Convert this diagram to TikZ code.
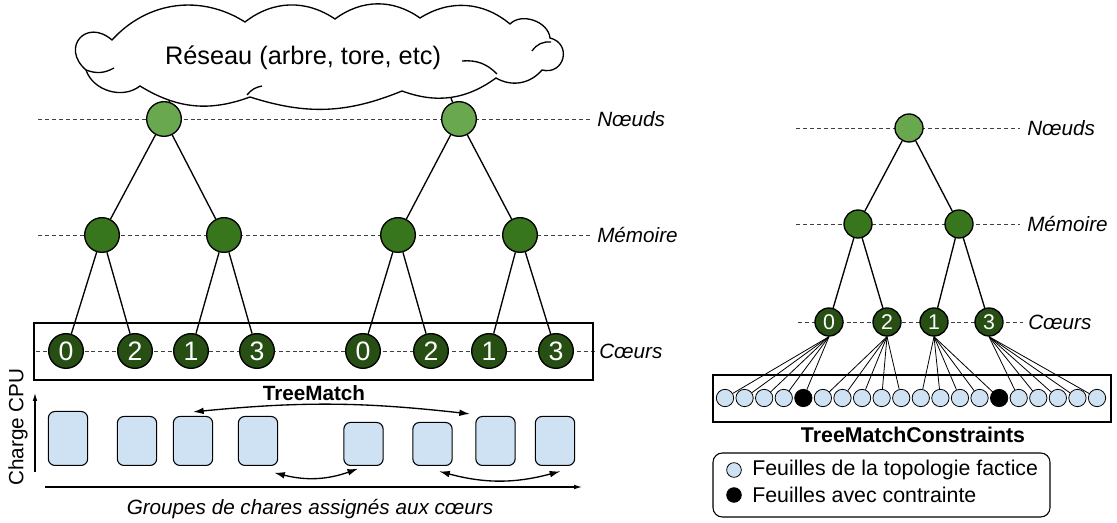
\documentclass[tikz,border=0pt]{standalone}
\usepackage{fontspec}
\setmainfont{Liberation Sans}
\usetikzlibrary{arrows.meta}

\definecolor{noeud}{HTML}{6AA84F}
\definecolor{memoire}{HTML}{38761D}
\definecolor{coeur}{HTML}{274E13}
\definecolor{feuille}{HTML}{CFE2F3}

\tikzset{
  lvl/.style={font=\fontsize{15.5}{18}\selectfont\itshape, anchor=west, inner sep=0pt},
  lvline/.style={dash pattern=on 3pt off 2.2pt, black!75, line width=0.6pt},
  nn/.style={circle, draw, line width=1pt, fill=noeud, minimum size=26pt, inner sep=0pt},
  nm/.style={nn, fill=memoire},
  nc/.style={nn, fill=coeur, text=white, font=\fontsize{20}{22}\selectfont},
  rn/.style={nn, minimum size=21pt},
  rm/.style={rn, fill=memoire},
  rc/.style={rn, fill=coeur, text=white, font=\fontsize{16}{18}\selectfont},
  leaf/.style={circle, draw, line width=0.6pt, fill=feuille, minimum size=13pt, inner sep=0pt},
  arete/.style={line width=1pt},
  nuage/.style={draw, fill=white, line width=1pt},
  frame/.style={draw, line width=1.5pt},
  bar/.style={draw, line width=0.8pt, rounded corners=5pt, fill=feuille, minimum width=29.5pt, anchor=south, inner sep=0pt},
  swap/.style={<->, >={Latex[length=8pt,width=5pt]}, line width=1pt},
  axe/.style={->, >={Latex[length=6pt,width=3.5pt]}, line width=0.8pt},
  titre/.style={font=\fontsize{15.5}{18}\selectfont\bfseries},
}

\begin{document}
\begin{tikzpicture}[x=0.75pt, y=-0.75pt]
  \useasboundingbox (0,0) rectangle (1117,523);

  % niveaux, arbre de gauche
  \node[lvl] (ln1) at (597,119) {Nœuds};
  \node[lvl] (ln2) at (597,235) {Mémoire};
  \node[lvl] (ln3) at (599,351) {Cœurs};
  \coordinate (dl1) at (38,119);
  \coordinate (dl2) at (38,235);
  \coordinate (dl3) at (36,351);
  \draw[lvline] (dl1) -- ([xshift=-5pt]ln1.west);
  \draw[lvline] (dl2) -- ([xshift=-5pt]ln2.west);
  \draw[lvline] (dl3) -- ([xshift=-2pt]ln3.west);

  % reseau
  \coordinate (cl) at (174,85);
  \coordinate (cr) at (446,85);
  \node[nn] (n1) at (164,119) {};
  \node[nn] (n2) at (459,119) {};
  \draw[arete] (n1) -- (cl);
  \draw[arete] (n2) -- (cr);
  \draw[nuage] (112,40) to[bend left=40] (245,22) to[bend left=36] (335,19)
    to[bend left=36] (420,18) to[bend left=36] (510,24) to[bend left=65] (550,38)
    to[bend left=90, looseness=1.8] (542,70) to[bend left=40] (496,78)
    to[bend left=28] (402,91) to[bend left=20] (250,97) to[bend left=26] (140,86)
    to[bend left=55] (86,70) to[bend left=90, looseness=2.2] cycle;
  \draw[line width=1pt] (462,61) to[bend left=25] (497,74);
  \draw[line width=1pt] (532,51) to[bend left=30] (551,42);
  \draw[line width=1pt] (247,95) to[bend left=20] (262,86);
  \draw[line width=1pt] (86,70) to[bend right=25] (114,68);
  \node[font=\fontsize{19}{22}\selectfont] (reseau) at (303,58) {Réseau (arbre, tore, etc)};

  \node[nm] (m1) at (102,235) {};
  \node[nm] (m2) at (224,235) {};
  \node[nm] (m3) at (398,235) {};
  \node[nm] (m4) at (520,235) {};
  \foreach \x/\t [count=\i] in {66/0,135/2,191/1,257/3,363/0,431/2,489/1,556/3}
    \node[nc] (c\i) at (\x,351) {\t};

  \draw[arete] (n1) -- (m1); \draw[arete] (n1) -- (m2);
  \draw[arete] (n2) -- (m3); \draw[arete] (n2) -- (m4);
  \draw[arete] (m1) -- (c1); \draw[arete] (m1) -- (c2);
  \draw[arete] (m2) -- (c3); \draw[arete] (m2) -- (c4);
  \draw[arete] (m3) -- (c5); \draw[arete] (m3) -- (c6);
  \draw[arete] (m4) -- (c7); \draw[arete] (m4) -- (c8);

  \draw[frame] (34,323) rectangle (593,380);
  \node[titre] (tm) at (314,393) {TreeMatch};

  % charges
  \node[bar, minimum height=40.5pt] (b1) at (68,466) {};
  \node[bar, minimum height=36.75pt] (b2) at (137,466) {};
  \node[bar, minimum height=36.75pt] (b3) at (193,466) {};
  \node[bar, minimum height=36.75pt] (b4) at (258,466) {};
  \node[bar, minimum height=32.25pt] (b5) at (363.5,466) {};
  \node[bar, minimum height=32.25pt] (b6) at (432.5,466) {};
  \node[bar, minimum height=36.75pt] (b7) at (495.5,466) {};
  \node[bar, minimum height=36.75pt] (b8) at (555,466) {};

  \draw[swap] ([yshift=3pt]b3.north) to[bend left=6] ([xshift=-4pt,yshift=1.5pt]b7.north west);
  \draw[swap] ([xshift=-3pt,yshift=-5pt]b4.south east) to[bend right=17] ([xshift=-4pt,yshift=-2pt]b5.south);
  \draw[swap] ([xshift=5pt,yshift=-4pt]b6.south) to[bend right=15] ([xshift=4pt,yshift=-4pt]b8.south);

  \coordinate (ay0) at (35,472);
  \coordinate (ay1) at (35,393);
  \coordinate (ax0) at (45,487);
  \coordinate (ax1) at (582,487);
  \draw[axe] (ay0) -- (ay1);
  \draw[axe] (ax0) -- (ax1);
  \node[rotate=90, font=\fontsize{15.5}{18}\selectfont] (charge) at (18,427) {Charge CPU};
  \node[font=\fontsize{15.5}{18}\selectfont\itshape] (groupes) at (310,509) {Groupes de chares assignés aux cœurs};

  % arbre de droite
  \node[lvl] (rl1) at (1027,128) {Nœuds};
  \node[lvl] (rl2) at (1027,224) {Mémoire};
  \node[lvl] (rl3) at (1028,322) {Cœurs};
  \coordinate (dr1) at (796,128);
  \coordinate (dr2) at (796,224);
  \coordinate (dr3) at (798,322);
  \draw[lvline] (dr1) -- ([xshift=-5pt]rl1.west);
  \draw[lvline] (dr2) -- ([xshift=-5pt]rl2.west);
  \draw[lvline] (dr3) -- ([xshift=-4pt]rl3.west);

  \node[rn] (rn1) at (909,128) {};
  \node[rm] (rm1) at (858,224) {};
  \node[rm] (rm2) at (959,224) {};
  \foreach \x/\t [count=\i] in {829/0,887/2,934/1,989/3}
    \node[rc] (r\i) at (\x,322) {\t};
  \draw[arete] (rn1) -- (rm1); \draw[arete] (rn1) -- (rm2);
  \draw[arete] (rm1) -- (r1); \draw[arete] (rm1) -- (r2);
  \draw[arete] (rm2) -- (r3); \draw[arete] (rm2) -- (r4);

  \draw[frame] (713,375) rectangle (1111,422);
  \foreach \i in {1,...,20} {
    \ifnum\i=5 \def\fc{black}\else\ifnum\i=15 \def\fc{black}\else\def\fc{feuille}\fi\fi
    \node[leaf, fill=\fc] (lf\i) at ({725+(\i-1)*19.58},398) {};
  }
  \foreach \k in {1,...,4}
    \foreach \j in {1,...,5} {
      \pgfmathtruncatemacro\l{5*(\k-1)+\j}
      \draw[line width=0.6pt] (r\k.south) -- (lf\l);
    }
  \node[titre, font=\fontsize{16}{18}\selectfont\bfseries] (tmc) at (913,435) {TreeMatchConstraints};

  % legende
  \draw[line width=0.8pt, rounded corners=7pt] (713,453) rectangle (1050,517);
  \node[leaf, minimum size=11pt] (lg1) at (734,470) {};
  \node[leaf, minimum size=11pt, fill=black] (lg2) at (734,495) {};
  \node[anchor=west, inner sep=0pt, font=\fontsize{16}{18}\selectfont] (lt1) at (752,470) {Feuilles de la topologie factice};
  \node[anchor=west, inner sep=0pt, font=\fontsize{16}{18}\selectfont] (lt2) at (752,495) {Feuilles avec contrainte};
\end{tikzpicture}
\end{document}
